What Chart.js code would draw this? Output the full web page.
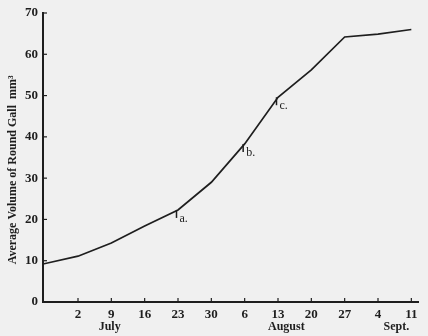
<!DOCTYPE html>
<html>
<head>
<meta charset="utf-8">
<script src="https://cdn.jsdelivr.net/npm/chart.js@4.4.0/dist/chart.umd.min.js"></script>
<style>
  html, body { margin: 0; padding: 0; background: #f0f0f0; }
  #wrap { width: 428px; height: 336px; }
</style>
</head>
<body>
<div id="wrap"><canvas id="chartCanvas"></canvas></div>
<script>
// week positions (0 = start of the record, 1 = July 2, ... 11 = Sept 11)
const weekPos = [-0.05, 1, 2, 3, 4, 5, 6, 7, 8, 9, 10, 11];
const galVolume = [9.2, 11.1, 14.3, 18.4, 22.3, 29, 38.3, 49.6, 56.2, 64.2, 64.9, 66];

const tickPos = [1, 2, 3, 4, 5, 6, 7, 8, 9, 10, 11];
const tickLabels = ["2", "9", "16", "23", "30", "6", "13", "20", "27", "4", "11"];

const monthNames = ["July", "August", "Sept."];
const monthPos = [1.95, 7.25, 10.55];

const markNames = ["a.", "b.", "c."];
const markIdx = [4, 6, 7];

const yTitle = "Average Volume of Round Gall  mm³";

const ink = "#1e1e1e";
const serif = "'Liberation Serif', 'DejaVu Serif', serif";

const decor = {
  id: "decor",
  afterDraw(chart) {
    const ctx = chart.ctx;
    const xs = chart.scales.x, ys = chart.scales.y;
    const area = chart.chartArea;
    ctx.save();
    ctx.strokeStyle = ink;
    ctx.lineWidth = 1.2;
    // inward tick marks
    [10, 20, 30, 40, 50, 60, 70].forEach(v => {
      const y = ys.getPixelForValue(v);
      ctx.beginPath();
      ctx.moveTo(area.left, y);
      ctx.lineTo(area.left + 4, y);
      ctx.stroke();
    });
    tickPos.forEach(v => {
      const x = xs.getPixelForValue(v);
      ctx.beginPath();
      ctx.moveTo(x, area.bottom);
      ctx.lineTo(x, area.bottom - 4);
      ctx.stroke();
    });
    // month names
    ctx.fillStyle = ink;
    ctx.font = "bold 12px " + serif;
    ctx.textAlign = "center";
    ctx.textBaseline = "middle";
    monthNames.forEach((m, i) => {
      ctx.fillText(m, xs.getPixelForValue(monthPos[i]), area.bottom + 25);
    });
    // y axis title, a bit below the middle as in the original
    ctx.save();
    ctx.translate(13, ys.getPixelForValue(32));
    ctx.rotate(-Math.PI / 2);
    ctx.font = "bold 12px " + serif;
    ctx.fillText(yTitle, 0, 0);
    ctx.restore();
    // a. b. c. marks
    ctx.font = "12px " + serif;
    ctx.textAlign = "left";
    ctx.lineWidth = 1.5;
    markIdx.forEach((k, i) => {
      const x = xs.getPixelForValue(weekPos[k]) - 1.5;
      const y = ys.getPixelForValue(galVolume[k]);
      ctx.beginPath();
      ctx.moveTo(x, y);
      ctx.lineTo(x, y + 8);
      ctx.stroke();
      ctx.fillText(markNames[i], x + 3, y + 9);
    });
    ctx.restore();
  }
};

new Chart(document.getElementById("chartCanvas"), {
  type: "line",
  data: {
    datasets: [{
      data: weekPos.map((x, i) => ({ x: x, y: galVolume[i] })),
      borderColor: ink,
      borderWidth: 1.7,
      pointRadius: 0,
      tension: 0,
      fill: false
    }]
  },
  options: {
    responsive: true,
    maintainAspectRatio: false,
    animation: false,
    layout: { padding: { top: 13, right: 10, left: 0, bottom: 0 } },
    plugins: { legend: { display: false }, tooltip: { enabled: false } },
    scales: {
      x: {
        type: "linear",
        min: -0.05,
        max: 11.2,
        afterBuildTicks: s => { s.ticks = tickPos.map(v => ({ value: v })); },
        afterFit: s => { s.height = 34; },
        grid: { drawOnChartArea: false, drawTicks: false },
        border: { color: ink, width: 2 },
        ticks: {
          color: ink,
          padding: 5,
          maxRotation: 0,
          autoSkip: false,
          font: { family: serif, size: 13, weight: "bold" },
          callback: v => tickLabels[tickPos.indexOf(v)]
        }
      },
      y: {
        min: 0,
        max: 70,
        afterFit: s => { s.width = 43; },
        grid: { drawOnChartArea: false, drawTicks: false },
        border: { color: ink, width: 2 },
        ticks: {
          stepSize: 10,
          color: ink,
          padding: 5,
          font: { family: serif, size: 13, weight: "bold" }
        }
      }
    }
  },
  plugins: [decor]
});
</script>
</body>
</html>
